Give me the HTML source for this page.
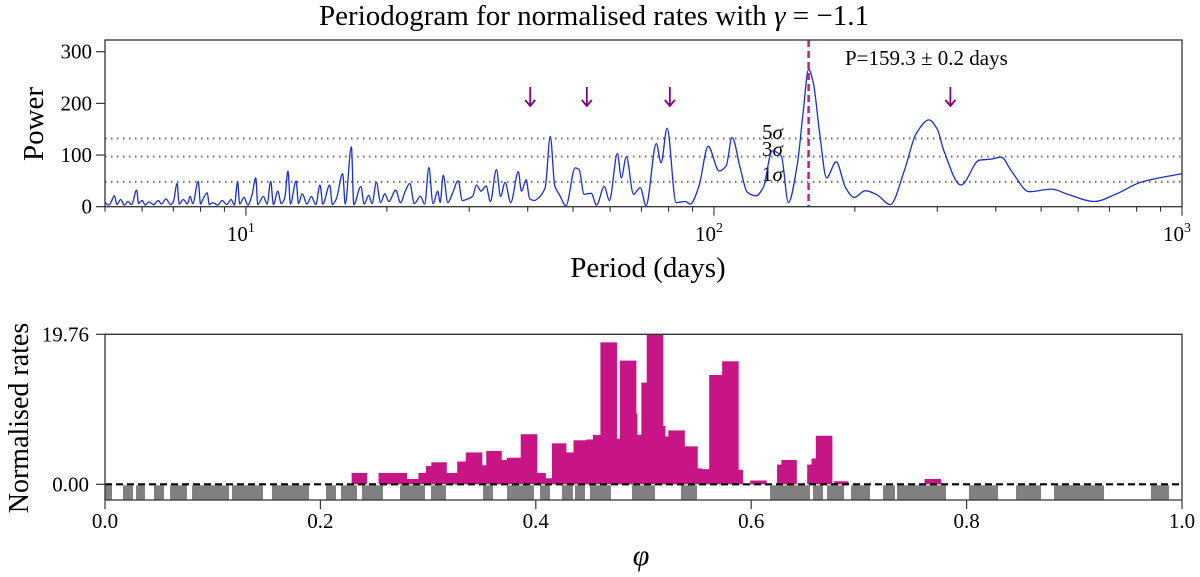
<!DOCTYPE html>
<html><head><meta charset="utf-8"><style>
html,body{margin:0;padding:0;background:#fff;}
svg{display:block;font-family:"Liberation Serif","DejaVu Serif",serif;}
</style></head><body>
<svg id="c" width="1200" height="577" viewBox="0 0 1200 577" xmlns="http://www.w3.org/2000/svg">
<g id="top"></g>
<g id="bot"></g>
</svg>
<script>
// ---- periodogram data ----
const periods = [5.0,5.1,5.24,5.3,5.4,5.5,5.6,5.7,5.84,5.9,6.0,6.1,6.2,6.35,6.5,6.6,6.75,6.9,7.0,7.13,7.2,7.35,7.5,7.6,7.7,7.91,8.0,8.1,8.27,8.35,8.5,8.7,8.9,9.1,9.3,9.45,9.6,9.7,9.9,10.1,10.3,10.5,10.6,10.9,11.1,11.3,11.45,11.7,11.9,12.1,12.3,12.45,12.8,12.95,13.2,13.5,13.8,14.1,14.4,14.6,15.1,15.3,15.6,16.1,16.3,16.8,17.0,17.6,17.9,18.3,18.6,19.0,19.4,19.8,20.2,20.9,21.4,21.9,22.4,22.9,23.6,24.1,24.6,25.1,25.7,26.0,26.4,27.0,27.6,28.4,29.0,29.8,30.5,31.1,31.8,32.6,33.3,34.3,35.0,35.8,36.8,38.2,38.8,39.7,40.4,41.3,42.5,43.6,44.7,45.7,46.7,48.3,50.5,51.5,52.8,54.7,56.1,58.3,59.8,62.2,63.4,65.0,67.3,69.6,71.6,75.3,77.1,79.4,83.0,86.8,89.0,92.9,97.2,102.6,106.2,109.3,113.8,117.8,123.1,127.4,133.2,139.3,144.2,150.7,155,159.3,163,168,174,182.5,191,199.5,210.5,223,238,255,270,288,300,310,337,369,390,411,432,472,526,574,650,721,815,998];
const power = [8,3,21,4,14,3,10,4,32,6,12,3,9,4,12,5,15,4,10,45,5,14,5,20,6,49,5,15,27,4,8,3,12,4,14,3,48,5,18,3,22,56,4,20,5,49,4,30,6,16,69,5,50,6,25,5,20,4,42,5,42,4,15,64,5,116,4,39,5,22,6,47,8,25,10,32,8,30,45,6,20,5,76,6,30,8,61,8,25,50,12,15,20,42,30,40,10,72,20,47,8,68,30,52,15,12,20,37,136,40,24,2,75,72,24,26,3,39,12,103,56,97,24,37,2,122,85,152,8,10,5,40,117,69,79,134,75,28,21,37,108,98,8,82,180,266,240,146,56,87,37,18,31,23,4,69,140,168,150,108,42,90,92,96,69,29,34,23,10,24,47,64];
const sigmaLevels = [132,97,48];
const sigmaLabels = ["5σ","3σ","1σ"];
const arrowPeriods = [40.5,53.5,80.5,320];
const bestPeriod = 159.3;
const yTicksTop = [0,100,200,300];
// ---- phase histogram data ----
const binStart = [.229,.254,.280,.291,.298,.303,.317,.327,.335,.350,.354,.368,.373,.386,.401,.409,.415,.428,.435,.447,.453,.460,.475,.478,.493,.494,.498,.503,.518,.520,.523,.538,.550,.554,.561,.573,.588,.599,.624,.628,.652,.656,.660,.677,.761];
const binEnd   = [.243,.280,.291,.298,.303,.317,.327,.335,.350,.354,.368,.373,.386,.401,.409,.415,.428,.435,.447,.453,.460,.475,.478,.493,.494,.498,.503,.518,.520,.523,.538,.550,.554,.561,.573,.588,.592,.614,.628,.642,.656,.660,.675,.690,.776];
const rates    = [1.5,1.5,0.7,1.5,2.4,2.9,1.5,3.0,4.2,2.5,4.4,3.2,3.5,6.6,1.5,0.8,5.4,4.2,5.8,5.9,6.5,18.7,6.0,16.3,9.3,6.5,13.4,19.76,7.7,6.3,7.1,5.0,2.1,2.0,14.4,16.2,1.9,0.5,2.6,3.2,2.6,3.4,6.4,0.4,0.7];
const grayStart = [0,.0167,.0288,.0455,.0604,.0808,.1179,.155,.2052,.2191,.2386,.2739,.3027,.351,.3733,.4039,.4243,.4364,.4503,.4893,.5348,.6175,.6574,.6704,.6927,.7224,.7354,.8022,.8459,.8812,.9712];
const grayEnd   = [.0065,.026,.0371,.0548,.0761,.1151,.1467,.1894,.2145,.234,.2581,.2971,.3166,.3603,.3983,.4132,.4345,.4457,.4698,.5107,.5497,.6546,.6667,.6862,.7103,.7335,.7809,.8292,.8691,.9276,.9879];
const phiTicks = [0,0.2,0.4,0.6,0.8,1.0];
const phiTickLabels = ["0.0","0.2","0.4","0.6","0.8","1.0"];
const rateTicks = [0,19.76];
const rateTickLabels = ["0.00","19.76"];

const NS="http://www.w3.org/2000/svg";
function mk(parent,tag,attrs,text){const e=document.createElementNS(NS,tag);for(const k in attrs)e.setAttribute(k,attrs[k]);if(text!==undefined)e.textContent=text;parent.appendChild(e);return e;}

function monotonePath(xs,ys){
 const n=xs.length,dx=[],m=[],t=[];
 for(let i=0;i<n-1;i++){dx[i]=xs[i+1]-xs[i];m[i]=(ys[i+1]-ys[i])/dx[i];}
 t[0]=m[0];t[n-1]=m[n-2];
 for(let i=1;i<n-1;i++){t[i]=(m[i-1]*m[i]<=0)?0:3*(dx[i-1]+dx[i])/((2*dx[i]+dx[i-1])/m[i-1]+(dx[i]+2*dx[i-1])/m[i]);}
 let d='M'+xs[0].toFixed(1)+' '+ys[0].toFixed(1);
 for(let i=0;i<n-1;i++){const h=dx[i]/3;d+='C'+(xs[i]+h).toFixed(1)+' '+(ys[i]+t[i]*h).toFixed(1)+' '+(xs[i+1]-h).toFixed(1)+' '+(ys[i+1]-t[i+1]*h).toFixed(1)+' '+xs[i+1].toFixed(1)+' '+ys[i+1].toFixed(1);}
 return d;
}

// ---------- TOP ----------
const T=document.getElementById('top');
const tL=105,tR=1182,tT=40,tB=206.7;
const xT=p=>tL+(Math.log10(p)-Math.log10(5))/(3-Math.log10(5))*(tR-tL);
const yT=v=>tB-v*(tB-51.7)/300;

let t=mk(T,'text',{x:594,y:25,'font-size':29,'text-anchor':'middle'});


t.innerHTML='Periodogram for normalised rates with <tspan font-style="italic">γ</tspan> = −1.1';

sigmaLevels.forEach((s,i)=>{
 const l=mk(T,'line',{x1:tL,x2:tR,y1:yT(s),y2:yT(s),stroke:'#777','stroke-width':2.2,'stroke-dasharray':'1.5 4.5'});
 
 
 const tx=mk(T,'text',{x:762,y:[139,156,181][i],'font-size':21},sigmaLabels[i][0]);
 
 
 mk(tx,'tspan',{'font-style':'italic'},'σ');
});

const line=mk(T,'path',{d:monotonePath(periods.map(xT),power.map(yT)),fill:'none',stroke:'#1a2ecc','stroke-width':1.3,'stroke-linejoin':'round'});



const bp=mk(T,'line',{x1:xT(bestPeriod),x2:xT(bestPeriod),y1:tT,y2:tB,stroke:'#cc1a80','stroke-width':2.5,'stroke-dasharray':'7 4'});


const pl=mk(T,'text',{x:845,y:65,'font-size':21},'P=159.3 ± 0.2 days');



arrowPeriods.forEach(p=>{
 const g=mk(T,'g',{stroke:'#800080','stroke-width':1.8,fill:'none'});
 
 
 const x=xT(p);
 mk(g,'line',{x1:x,x2:x,y1:87,y2:106});
 mk(g,'path',{d:`M${x-5} 100 L${x} 106 L${x+5} 100`});
});

const fr=mk(T,'rect',{x:tL,y:tT,width:tR-tL,height:tB-tT,fill:'none',stroke:'#333','stroke-width':1.3});



yTicksTop.forEach(v=>{
 mk(T,'line',{x1:tL-9,x2:tL,y1:yT(v),y2:yT(v),stroke:'#333','stroke-width':1.2});
 const tx=mk(T,'text',{x:tL-13,y:yT(v)+7,'font-size':21,'text-anchor':'end'},String(v));
 
 
});
for(let dec=0;dec<3;dec++){for(let m=1;m<10;m++){const p=m*Math.pow(10,dec);if(p<5||p>1000)continue;const x=xT(p);mk(T,'line',{x1:x,x2:x,y1:tB,y2:tB+(m===1?9:5),stroke:'#333','stroke-width':1.1});}}
mk(T,'line',{x1:tR,x2:tR,y1:tB,y2:tB+9,stroke:'#333','stroke-width':1.1});
[1,2,3].forEach(e=>{
 const tx=mk(T,'text',{x:xT(Math.pow(10,e))-5,y:241,'font-size':21,'text-anchor':'middle'},'10');
 
 
 mk(tx,'tspan',{dy:-9,'font-size':14},String(e));
});
let xl=mk(T,'text',{x:648,y:277,'font-size':29,'text-anchor':'middle'},'Period (days)');


let yl=mk(T,'text',{x:0,y:0,'font-size':29,'text-anchor':'middle',transform:'translate(43,124) rotate(-90)'},'Power');



// ---------- BOTTOM ----------
const B=document.getElementById('bot');
const bL=105,bR=1182,bTop=334.3,bZero=484.3,bBot=500;
const xB=f=>bL+f*(bR-bL);
const yB=v=>bZero-v*(bZero-bTop)/19.76;

grayStart.forEach((s,i)=>{
 const r=mk(B,'rect',{x:xB(s),y:bZero+1,width:xB(grayEnd[i])-xB(s),height:bBot-bZero-1.5,fill:'#808080'});
 
 
});
binStart.forEach((s,i)=>{
 const r=mk(B,'rect',{x:xB(s),y:yB(rates[i]),width:xB(binEnd[i])-xB(s)+0.4,height:bZero-yB(rates[i]),fill:'#c71585'});
 
 
});
const zl=mk(B,'line',{x1:bL,x2:bR,y1:bZero,y2:bZero,stroke:'#000','stroke-width':2.2,'stroke-dasharray':'7 4'});


const bf=mk(B,'path',{d:`M${bL} ${bBot} L${bL} ${bTop} L${bR} ${bTop} L${bR} ${bBot} L${bL} ${bBot}`,fill:'none',stroke:'#333','stroke-width':1.3});


rateTicks.forEach((v,i)=>{
 mk(B,'line',{x1:bL-9,x2:bL,y1:yB(v),y2:yB(v),stroke:'#333','stroke-width':1.2});
 const tx=mk(B,'text',{x:bL-16,y:yB(v)+7,'font-size':21,'text-anchor':'end'},rateTickLabels[i]);
 
 
});
phiTicks.forEach((v,i)=>{
 mk(B,'line',{x1:xB(v),x2:xB(v),y1:bBot,y2:bBot+9,stroke:'#333','stroke-width':1.2});
 const tx=mk(B,'text',{x:xB(v),y:528,'font-size':21,'text-anchor':'middle'},phiTickLabels[i]);
 
 
});
let px=mk(B,'text',{x:641,y:565,'font-size':30,'font-style':'italic','text-anchor':'middle'},'φ');


let ry=mk(B,'text',{x:0,y:0,'font-size':28,'text-anchor':'middle',transform:'translate(28,418) rotate(-90)'},'Normalised rates');


</script>
</body></html>
